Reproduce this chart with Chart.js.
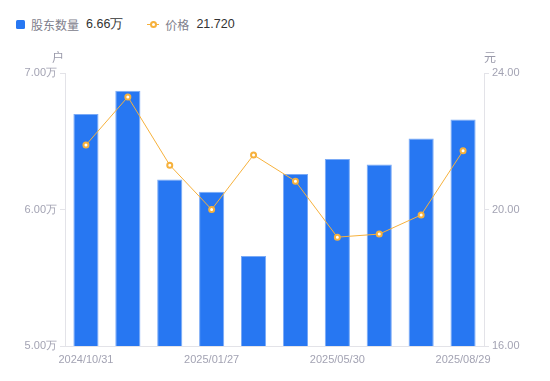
<!DOCTYPE html>
<html>
<head>
<meta charset="utf-8">
<script src="https://cdn.jsdelivr.net/npm/chart.js@4/dist/chart.umd.min.js"></script>
<style>
  html, body { margin: 0; padding: 0; background: #fff; }
  body { width: 550px; height: 381px; position: relative; overflow: hidden;
         font-family: "Noto Sans CJK SC", "Noto Sans", sans-serif; }
  #legend { position: absolute; left: 16px; top: 14px; height: 20px; display: flex; align-items: center;
            font-size: 12px; white-space: nowrap; }
  .item { display: flex; align-items: center; margin-right: 24px; }
  .sq { width: 9px; height: 9px; border-radius: 1.5px; background: #2777f2; margin-right: 6px; }
  .ln { position: relative; width: 12px; height: 9px; margin-right: 6px; }
  .ln::before { content: ""; position: absolute; left: 0; right: 0; top: 4px; height: 1px; background: #f6b13c; }
  .ln::after { content: ""; position: absolute; left: 2.5px; top: 1.5px; width: 3px; height: 3px; border: 2px solid #f6b13c;
               border-radius: 50%; background: #fff; }
  .nm { color: #80808c; margin-right: 7px; }
  .vl { color: #333; font-family: "Liberation Sans", Arial, sans-serif; font-size: 12.5px; }
  #wrap { position: absolute; left: 0; top: 0; width: 550px; height: 381px; }
</style>
</head>
<body>
<div id="legend">
  <div class="item"><span class="sq"></span><span class="nm">股东数量</span><span class="vl">6.66万</span></div>
  <div class="item"><span class="ln"></span><span class="nm">价格</span><span class="vl">21.720</span></div>
</div>
<div id="wrap"><canvas id="c" width="550" height="381"></canvas></div>
<script>
const categories = ["2024/10/31","2024/11/29","2024/12/31","2025/01/27","2025/02/28","2025/03/31","2025/05/30","2025/06/30","2025/07/31","2025/08/29"];
const shownLabels = ["2024/10/31","2025/01/27","2025/05/30","2025/08/29"];
const holders = [6.70, 6.87, 6.22, 6.13, 5.66, 6.26, 6.37, 6.33, 6.52, 6.66];
const price = [21.89, 23.30, 21.30, 20.00, 21.60, 20.83, 19.19, 19.28, 19.84, 21.72];
const leftTicks = [5, 6, 7];
const rightTicks = [16, 20, 24];

const tickColor = '#a3a3b3';
const axisColor = '#e3e3e8';
const tickFont = { size: 11, family: '"Liberation Sans", Arial, sans-serif' };

const unitTitles = {
  id: 'unitTitles',
  afterDraw(chart) {
    const ctx = chart.ctx, a = chart.chartArea;
    ctx.save();
    ctx.font = '12px "Noto Sans CJK SC", sans-serif';
    ctx.fillStyle = '#9a9aaa';
    ctx.textBaseline = 'middle';
    ctx.textAlign = 'center';
    ctx.fillText('户', a.left - 7, a.top - 16);
    ctx.fillText('元', a.right + 6, a.top - 16);
    ctx.restore();
  }
};

new Chart(document.getElementById('c'), {
  data: {
    labels: categories,
    datasets: [
      {
        type: 'line', label: '价格', data: price, yAxisID: 'y1',
        borderColor: '#f6b13c', borderWidth: 1, backgroundColor: '#fff',
        pointRadius: 2.5, pointBorderWidth: 2, pointBorderColor: '#f6b13c', pointBackgroundColor: '#fff',
        tension: 0, order: 0
      },
      {
        type: 'bar', label: '股东数量', data: holders, yAxisID: 'y',
        backgroundColor: '#2777f2', borderColor: '#7aaaf6', borderWidth: 1,
        barPercentage: 0.6, categoryPercentage: 1, order: 1
      }
    ]
  },
  options: {
    responsive: false, animation: false,
    layout: { padding: { top: 73, left: 0, right: 0, bottom: 0 } },
    plugins: { legend: { display: false }, tooltip: { enabled: false } },
    scales: {
      x: {
        grid: { display: false, drawTicks: false },
        border: { display: true, color: axisColor, width: 1 },
        ticks: {
          autoSkip: false, maxRotation: 0, color: tickColor, padding: 7, font: tickFont,
          callback: function(v, i) { const l = categories[i]; return shownLabels.includes(l) ? l : ''; }
        },
        afterFit(s) { s.height = 35; }
      },
      y: {
        position: 'left', min: 5, max: 7,
        afterBuildTicks(s) { s.ticks = leftTicks.map(v => ({ value: v })); },
        grid: { display: true, drawOnChartArea: false, drawTicks: true, tickLength: 5, color: axisColor },
        border: { display: true, color: axisColor, width: 1 },
        ticks: { color: tickColor, padding: 3, font: tickFont,
                 callback: v => v.toFixed(2) + '万' },
        afterFit(s) { s.width = 65; }
      },
      y1: {
        position: 'right', min: 16, max: 24,
        afterBuildTicks(s) { s.ticks = rightTicks.map(v => ({ value: v })); },
        grid: { display: true, drawOnChartArea: false, drawTicks: true, tickLength: 5, color: axisColor },
        border: { display: true, color: axisColor, width: 1 },
        ticks: { color: tickColor, padding: 3, font: tickFont,
                 callback: v => v.toFixed(2) },
        afterFit(s) { s.width = 66; }
      }
    }
  },
  plugins: [unitTitles]
});
</script>
</body>
</html>
